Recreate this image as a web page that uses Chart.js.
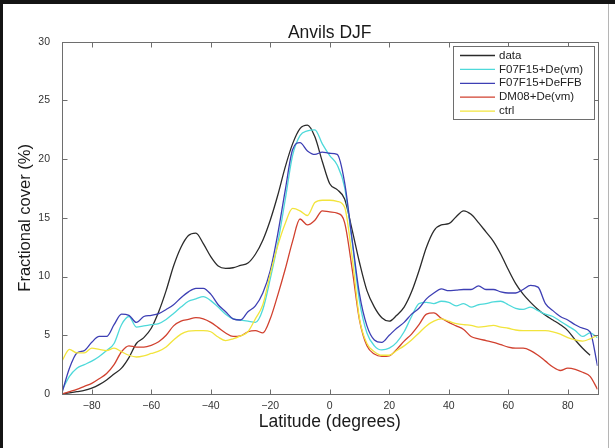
<!DOCTYPE html>
<html>
<head>
<meta charset="utf-8">
<script src="https://cdn.jsdelivr.net/npm/chart.js@4.4.1/dist/chart.umd.min.js"></script>
<style>
html, body { margin: 0; padding: 0; background: #fff; }
#wrap { position: relative; width: 615px; height: 448px; overflow: hidden; }
#frame { position: absolute; left: 0; top: 0; width: 615px; height: 448px; box-sizing: border-box;
         border-top: 4px solid #141414; border-left: 3px solid #141414; pointer-events: none; }
#edge { position: absolute; left: 608px; top: 4px; width: 1px; height: 444px; background: #b5b5b5; }
</style>
</head>
<body>
<div id="wrap">
  <canvas id="anvilChart" width="615" height="448"></canvas>
  <div id="frame"></div>
  <div id="edge"></div>
</div>
<script>
const FONT = "'Liberation Sans', Arial, Helvetica, sans-serif";

// latitude (degrees)
const lats = [-90, -87.5, -85, -82.5, -80, -77.5, -75, -72.5, -70, -67.5, -65, -62.5, -60, -57.5, -55, -52.5,
  -50, -47.5, -45, -42.5, -40, -37.5, -35, -32.5, -30, -27.5, -25, -22.5, -20, -17.5, -15, -12.5,
  -10, -7.5, -5, -2.5, 0, 2.5, 5, 7.5, 10, 12.5, 15, 17.5, 20, 22.5, 25, 27.5,
  30, 32.5, 35, 37.5, 40, 42.5, 45, 47.5, 50, 52.5, 55, 57.5, 60, 62.5, 65, 67.5,
  70, 72.5, 75, 77.5, 80, 82.5, 85, 87.5, 90];

// fractional cover (%)
const obsData = [0.0, 0.1, 0.2, 0.3, 0.5, 0.8, 1.2, 1.7, 2.2, 3.1, 4.3, 4.8, 5.6, 7.0, 8.8, 10.9,
  12.5, 13.5, 13.7, 12.8, 11.7, 10.9, 10.7, 10.75, 10.95, 11.15, 11.9, 13.1, 14.8, 16.9, 19.3, 21.3,
  22.6, 22.9, 21.9, 19.8, 17.9, 17.4, 16.6, 14.0, 11.2, 8.8, 7.4, 6.5, 6.2, 6.7, 7.4, 8.7,
  10.5, 12.5, 13.9, 14.4, 14.5, 15.1, 15.6, 15.3, 14.6, 13.8, 13.0, 11.9, 10.6, 9.4, 8.5, 7.8,
  7.2, 6.7, 6.3, 5.9, 5.4, 4.6, 3.9, 3.3, null];

const f07De = [0.3, 1.5, 2.2, 2.5, 2.8, 3.2, 3.7, 4.3, 5.9, 6.6, 5.7, 5.8, 5.9, 6.0, 6.35, 6.85,
  7.4, 7.9, 8.1, 8.3, 7.95, 7.4, 6.8, 6.4, 6.3, 6.2, 6.1, 7.2, 9.8, 12.8, 16.5, 20.3,
  22.0, 22.4, 22.5, 21.3, 20.3, 19.5, 17.6, 13.0, 7.9, 5.2, 4.1, 3.75, 3.9, 4.4, 5.3, 6.6,
  7.7, 7.8, 7.7, 7.9, 7.8, 7.5, 7.7, 7.4, 7.6, 7.7, 7.85, 7.9, 7.6, 7.3, 7.2, 7.4,
  7.1, 6.8, 6.6, 6.2, 5.8, 5.4, 4.9, 5.2, 4.8];

const f07FFB = [0.1, 2.2, 3.5, 3.7, 4.4, 4.9, 4.9, 5.9, 6.8, 6.7, 6.1, 6.6, 6.7, 6.85, 7.2, 7.6,
  8.2, 8.7, 9.0, 9.0, 8.5, 7.6, 7.0, 6.4, 6.3, 7.0, 7.5, 8.6, 10.5, 13.6, 17.3, 20.8,
  21.4, 20.7, 20.4, 20.6, 20.5, 20.4, 18.0, 13.2, 8.5, 5.8, 4.6, 4.4, 5.0, 5.6, 6.1, 6.8,
  7.3, 8.1, 8.6, 8.95, 8.8, 8.85, 8.9, 8.9, 9.2, 8.9, 8.9, 8.7, 8.6, 8.6, 8.9, 9.25,
  9.1, 7.7, 7.1, 6.6, 6.3, 5.9, 5.6, 5.3, 2.4];

const dm08De = [0.0, 0.2, 0.4, 0.65, 0.9, 1.3, 1.75, 2.5, 3.6, 4.1, 4.0, 4.0, 4.15, 4.45, 5.0, 5.8,
  6.2, 6.35, 6.5, 6.4, 6.1, 5.65, 5.2, 4.9, 4.95, 5.3, 5.4, 5.2, 6.4, 8.4, 10.6, 13.0,
  14.9, 14.4, 14.8, 15.6, 15.5, 15.4, 14.6, 10.7, 6.3, 4.1, 3.4, 3.2, 3.25, 3.8, 4.5, 5.1,
  5.9, 6.8, 6.9, 6.45, 6.1, 5.8, 5.5, 4.9, 4.7, 4.55, 4.4, 4.2, 4.0, 3.9, 3.9, 3.7,
  3.3, 2.8, 2.3, 2.0, 2.2, 2.1, 1.85, 1.5, 0.4];

const ctrl = [2.8, 3.8, 3.5, 3.5, 3.9, 3.8, 3.7, 3.9, 3.6, 3.3, 3.15, 3.25, 3.45, 3.65, 4.0, 4.6,
  5.1, 5.35, 5.4, 5.4, 5.3, 4.85, 4.55, 4.7, 4.95, 5.3, 6.4, 7.6, 10.2, 12.6, 14.5, 15.8,
  15.6, 15.2, 16.3, 16.5, 16.5, 16.4, 15.9, 11.7, 6.4, 4.3, 3.6, 3.3, 3.3, 3.7, 4.1, 4.6,
  5.2, 5.8, 6.2, 6.4, 6.2, 6.0, 5.9, 5.85, 5.7, 5.75, 5.85, 5.7, 5.6, 5.45, 5.4, 5.4,
  5.4, 5.4, 5.3, 5.1, 4.8, 4.6, 4.5, 4.7, 5.0];

const seriesNames = ['data', 'F07F15+De(vm)', 'F07F15+DeFFB', 'DM08+De(vm)', 'ctrl'];
const seriesValues = [obsData, f07De, f07FFB, dm08De, ctrl];
const seriesColors = ['#2b2b2b', '#4ed9da', '#3d3fb4', '#d1412f', '#f2e43c'];

const xTickValues = [-80, -60, -40, -20, 0, 20, 40, 60, 80];
const yTickValues = [0, 5, 10, 15, 20, 25, 30];

const datasets = seriesValues.map((vals, i) => ({
    label: seriesNames[i],
    data: lats.map((lat, j) => ({ x: lat, y: vals[j] })),
    borderColor: seriesColors[i],
    borderWidth: 1.3,
    pointRadius: 0,
    cubicInterpolationMode: 'monotone',
    order: seriesNames.length - i  // later series drawn on top, like matlab
}));

// matlab style box, inward ticks, title and legend
const matlabBox = {
    id: 'matlabBox',
    afterDatasetsDraw(chart) {
        const { ctx, chartArea: a, scales } = chart;
        const L = Math.round(a.left) + 0.5, R = Math.round(a.right) + 0.5;
        const T = Math.round(a.top) + 0.5, B = Math.round(a.bottom) + 0.5;
        ctx.save();
        ctx.strokeStyle = '#6e6e6e';
        ctx.lineWidth = 1;
        ctx.strokeRect(L, T, R - L, B - T);
        ctx.beginPath();
        scales.x.ticks.forEach(t => {
            const px = Math.round(scales.x.getPixelForValue(t.value)) + 0.5;
            ctx.moveTo(px, B); ctx.lineTo(px, B - 5);
            ctx.moveTo(px, T); ctx.lineTo(px, T + 5);
        });
        scales.y.ticks.forEach(t => {
            const py = Math.round(scales.y.getPixelForValue(t.value)) + 0.5;
            ctx.moveTo(L, py); ctx.lineTo(L + 5, py);
            ctx.moveTo(R, py); ctx.lineTo(R - 5, py);
        });
        ctx.stroke();

        // title
        ctx.fillStyle = '#1a1a1a';
        ctx.font = '17.5px ' + FONT;
        ctx.textAlign = 'center';
        ctx.textBaseline = 'middle';
        ctx.fillText('Anvils DJF', (a.left + a.right) / 2, 33);

        // legend box
        const bx = 453.5, by = 46.5, bw = 141, bh = 73;
        ctx.fillStyle = '#fff';
        ctx.fillRect(bx, by, bw, bh);
        ctx.strokeStyle = '#6e6e6e';
        ctx.strokeRect(bx, by, bw, bh);
        ctx.font = '11.5px ' + FONT;
        ctx.textAlign = 'left';
        seriesNames.forEach((name, i) => {
            const y = 55.5 + i * 13.9;
            ctx.strokeStyle = seriesColors[i];
            ctx.lineWidth = 1.3;
            ctx.beginPath();
            ctx.moveTo(460, y); ctx.lineTo(495, y);
            ctx.stroke();
            ctx.fillStyle = '#222';
            ctx.fillText(name, 499, y);
        });
        ctx.restore();
    }
};

const ctx = document.getElementById('anvilChart').getContext('2d');

new Chart(ctx, {
    type: 'line',
    data: { datasets: datasets },
    options: {
        responsive: false,
        animation: false,
        devicePixelRatio: 1,
        layout: { padding: { left: 3, right: 17.5, top: 41.7, bottom: 0 } },
        plugins: {
            legend: { display: false },
            tooltip: { enabled: false },
            title: { display: false }
        },
        scales: {
            x: {
                type: 'linear',
                min: -90,
                max: 90,
                afterBuildTicks: s => { s.ticks = xTickValues.map(v => ({ value: v })); },
                afterFit: s => { s.height = 54; },
                grid: { display: false, drawTicks: false },
                border: { display: false },
                ticks: {
                    padding: 6,
                    color: '#333',
                    font: { family: FONT, size: 10.5 },
                    maxRotation: 0,
                    callback: v => (v < 0 ? '\u2212' + Math.abs(v) : String(v))
                },
                title: {
                    display: true,
                    text: 'Latitude (degrees)',
                    color: '#1a1a1a',
                    font: { family: FONT, size: 17.5 },
                    padding: { top: 0, bottom: 15.5 }
                }
            },
            y: {
                min: 0,
                max: 30,
                afterBuildTicks: s => { s.ticks = yTickValues.map(v => ({ value: v })); },
                afterFit: s => { s.width = 59; },
                grid: { display: false, drawTicks: false },
                border: { display: false },
                ticks: {
                    padding: 12,
                    color: '#333',
                    font: { family: FONT, size: 10.5 }
                },
                title: {
                    display: true,
                    text: 'Fractional cover (%)',
                    color: '#1a1a1a',
                    font: { family: FONT, size: 16.5 },
                    padding: { top: 13, bottom: 0 }
                }
            }
        }
    },
    plugins: [matlabBox]
});
</script>
</body>
</html>
